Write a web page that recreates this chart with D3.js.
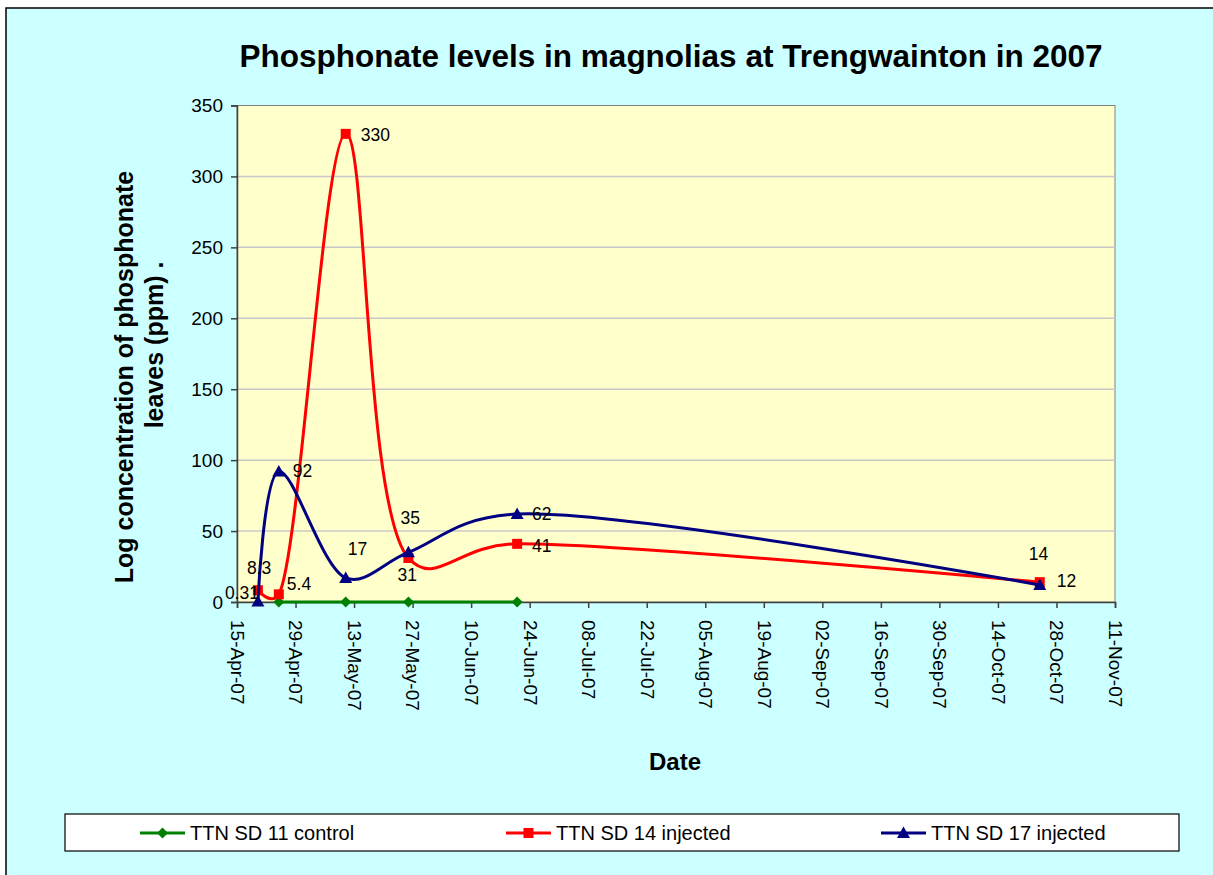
<!DOCTYPE html>
<html><head><meta charset="utf-8">
<script src="https://cdn.jsdelivr.net/npm/d3@7"></script>
<style>
html,body{margin:0;padding:0;background:#fff;}
svg{display:block;font-family:Arial,"Liberation Sans",sans-serif;}
</style></head>
<body>
<svg id="chart" width="1213" height="875"></svg>
<script>
// ---- data ----
const seriesNames = ["TTN SD 11 control", "TTN SD 14 injected", "TTN SD 17 injected"];
const controlDates = ["2007-04-25", "2007-05-11", "2007-05-26", "2007-06-21"];
const controlValues = [0, 0, 0, 0];
const sd14Dates = ["2007-04-20", "2007-04-25", "2007-05-11", "2007-05-26", "2007-06-21", "2007-10-24"];
const sd14Values = [8.3, 5.4, 330, 31, 41, 14];
const sd17Dates = ["2007-04-20", "2007-04-25", "2007-05-11", "2007-05-26", "2007-06-21", "2007-10-24"];
const sd17Values = [0.31, 92, 17, 35, 62, 12];
const xTickLabels = ["15-Apr-07","29-Apr-07","13-May-07","27-May-07","10-Jun-07","24-Jun-07","08-Jul-07","22-Jul-07","05-Aug-07","19-Aug-07","02-Sep-07","16-Sep-07","30-Sep-07","14-Oct-07","28-Oct-07","11-Nov-07"];
const yTicks = [0, 50, 100, 150, 200, 250, 300, 350];

// label placement (offsets from point, px)
const sd14LabelOffsets = [[-11,-22],[8,-10],[15,1],[-11,17],[15,2],[-11,-28]];
const sd17LabelOffsets = [[-33,-9],[14,-1],[2,-29],[-8,-34],[15,0],[17,-4]];

const parse = d3.utcParse("%Y-%m-%d");
const parseTick = d3.utcParse("%d-%b-%y");
const svg = d3.select("#chart");
const FONT = "Arial, 'Liberation Sans', sans-serif";

// background
svg.append("rect").attr("x",0).attr("y",0).attr("width",1213).attr("height",875).attr("fill","#fff");
svg.append("rect").attr("x",6).attr("y",8).attr("width",1220).attr("height",880)
  .attr("fill","#CCFFFF").attr("stroke","#000").attr("stroke-width",1.5);

const L=237, R=1115, T=105.5, B=602;
const x = d3.scaleUtc().domain([parseTick(xTickLabels[0]), parseTick(xTickLabels[xTickLabels.length-1])]).range([L,R]);
const y = d3.scaleLinear().domain([0,350]).range([B,T]);

// plot area
svg.append("rect").attr("x",L).attr("y",T).attr("width",R-L).attr("height",B-T)
  .attr("fill","#FFFFCC").attr("stroke","#808080").attr("stroke-width",1);

// gridlines
svg.append("g").selectAll("line").data(yTicks.filter(d=>d>0&&d<350)).join("line")
  .attr("x1",L).attr("x2",R).attr("y1",d=>y(d)).attr("y2",d=>y(d))
  .attr("stroke","#C8C8C8").attr("stroke-width",1.5);

// y axis
const yAxis = svg.append("g").attr("transform",`translate(${L},0)`)
  .call(d3.axisLeft(y).tickValues(yTicks).tickSize(6).tickPadding(8));
yAxis.select(".domain").attr("stroke","#404040").attr("stroke-width",1.5);
yAxis.selectAll(".tick line").attr("stroke","#404040").attr("stroke-width",1.5);
yAxis.selectAll("text").attr("font-size","19px").attr("fill","#000").attr("font-family",FONT);

// x axis
const xAxis = svg.append("g").attr("transform",`translate(0,${B})`)
  .call(d3.axisBottom(x).tickValues(xTickLabels.map(parseTick)).tickSize(6).tickFormat((d,i)=>xTickLabels[i]));
xAxis.select(".domain").attr("stroke","#404040").attr("stroke-width",1.5);
xAxis.selectAll(".tick line").attr("stroke","#404040").attr("stroke-width",1.5);
xAxis.selectAll("text").attr("font-size","19px").attr("fill","#000")
  .attr("font-family",FONT)
  .attr("transform","rotate(90)").attr("text-anchor","start")
  .attr("x",18).attr("y",0).attr("dy","0.35em");

// series
const line = d3.line().x(d=>x(d.date)).y(d=>y(d.value)).curve(d3.curveCatmullRom.alpha(0.35));
function mk(dates, vals){ return dates.map((d,i)=>({date:parse(d), value:vals[i]})); }
const control = mk(controlDates, controlValues);
const sd14 = mk(sd14Dates, sd14Values);
const sd17 = mk(sd17Dates, sd17Values);

const plot = svg.append("g");
const colors = ["#008000","#FF0000","#000080"];

function drawSeries(data, color, marker){
  plot.append("path").datum(data).attr("d",line).attr("fill","none")
    .attr("stroke",color).attr("stroke-width",3).attr("stroke-linejoin","round");
  plot.append("g").selectAll("path").data(data).join("path")
    .attr("transform",d=>`translate(${x(d.date)},${y(d.value)})`)
    .attr("d",marker).attr("fill",color);
}
const diamond = "M0,-5.5L5.5,0L0,5.5L-5.5,0Z";
const square = "M-5,-5H5V5H-5Z";
const triangle = "M0,-6.5L6.5,5H-6.5Z";

drawSeries(control, colors[0], diamond);
drawSeries(sd14, colors[1], square);
drawSeries(sd17, colors[2], triangle);

// data labels
function labels(data, offs){
  svg.append("g").selectAll("text").data(data).join("text")
    .attr("x",(d,i)=>x(d.date)+offs[i][0]).attr("y",(d,i)=>y(d.value)+offs[i][1])
    .attr("dy","0.35em").attr("font-size","17.5px").attr("fill","#000")
    .text(d=>String(d.value));
}
labels(sd14, sd14LabelOffsets);
labels(sd17, sd17LabelOffsets);

// title
svg.append("text").attr("x",671).attr("y",67).attr("text-anchor","middle")
  .attr("font-size","31.5px").attr("font-weight","bold").text("Phosphonate levels in magnolias at Trengwainton in 2007");

// axis titles
svg.append("text").attr("x",675).attr("y",762).attr("dy","0.35em").attr("text-anchor","middle")
  .attr("font-size","24px").attr("font-weight","bold").text("Date");
svg.append("text").attr("transform","translate(124,377) rotate(-90)").attr("text-anchor","middle").attr("dy","0.35em")
  .attr("font-size","25px").attr("font-weight","bold").text("Log concentration of phosphonate");
svg.append("text").attr("transform","translate(154,345) rotate(-90)").attr("text-anchor","middle").attr("dy","0.35em")
  .attr("font-size","25px").attr("font-weight","bold").text("leaves (ppm) .");

// legend
const lg = svg.append("g");
lg.append("rect").attr("x",65).attr("y",814).attr("width",1114).attr("height",37)
  .attr("fill","#fff").attr("stroke","#000").attr("stroke-width",1.2);
const legendX = [140, 506, 881];
const markers = [diamond, square, triangle];
seriesNames.forEach((n,i)=>{
  const g = lg.append("g").attr("transform",`translate(${legendX[i]},833)`);
  g.append("line").attr("x1",0).attr("x2",45).attr("stroke",colors[i]).attr("stroke-width",3);
  g.append("path").attr("d",markers[i]).attr("transform","translate(22.5,0)").attr("fill",colors[i]);
  g.append("text").attr("x",50).attr("dy","0.35em").attr("font-size","20px").attr("fill","#000").text(n);
});
</script>
</body></html>
